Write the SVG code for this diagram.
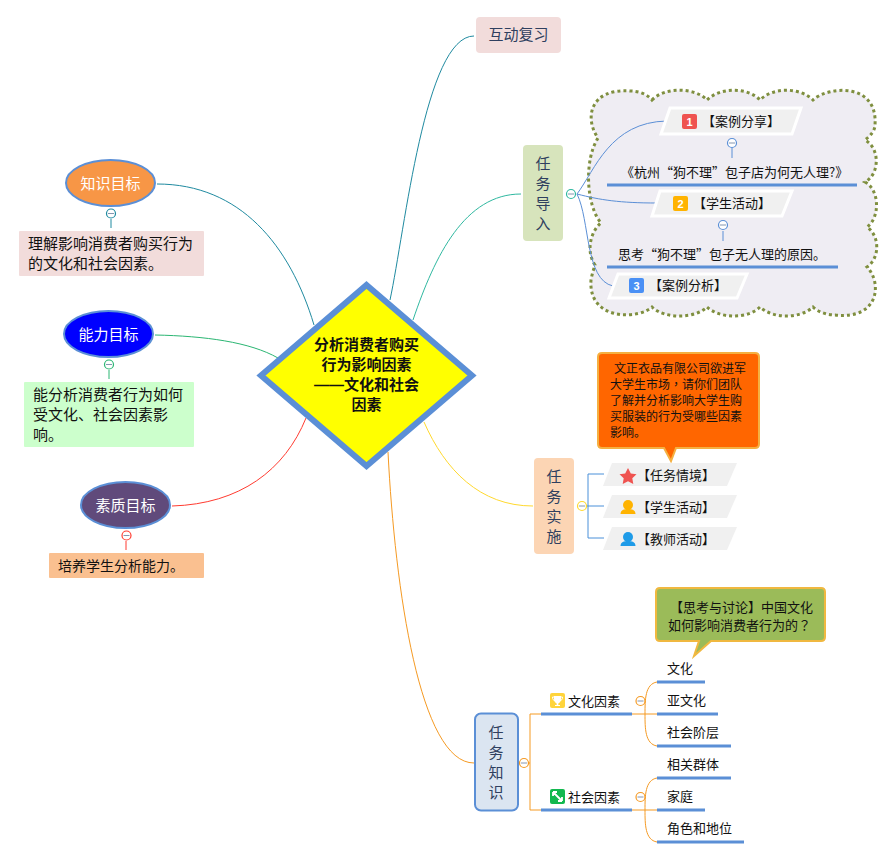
<svg xmlns="http://www.w3.org/2000/svg" width="895" height="859" viewBox="0 0 895 859">
<style>
text{font-family:"Noto Sans CJK SC","Microsoft YaHei","Noto Sans",sans-serif;font-size:13px;fill:#111}
.t15{font-size:15px}.t14{font-size:14px}.t12{font-size:12px}
.head{font-size:15px;fill:#2f3f5f;text-anchor:middle}
.w{fill:#fff;font-size:15px;text-anchor:middle}
.c{fill:none;stroke-width:1}
.u{stroke:#5b8fd6;stroke-width:3;fill:none}
.p{fill:#f0f0f0;stroke:#fff;stroke-width:3}
.q{fill:#f0f0f0}
.col{fill:#fff;stroke-width:1.200}
.minus{stroke:#8496b0;stroke-width:1}
.num{font-size:11px;font-weight:700;fill:#fff;text-anchor:middle;font-family:"Liberation Sans",sans-serif}
.tc{font-family:"Noto Sans CJK TC",sans-serif}
</style>
<g id="cloud"><path d="M652 100C664 87 695 87 707 100C720 87 748 87 760 100C773 87 800 87 813 100C828 86 878 82 875 125C875 131 870 136 865 140C880 148 880 174 865 182C880 190 880 218 867 227C880 236 880 258 867 267C882 282 880 320 835 315C827 315 818 312 813 307C800 319 773 319 760 307C748 319 720 319 707 307C695 319 664 319 652 307C640 319 588 322 591 280C592 274 594 268 595 265C586 252 590 232 601 223C586 205 584 160 598 138C584 118 590 88 630 91C640 91 648 95 652 100Z" fill="#efedf3" stroke="#7f8f3f" stroke-width="3" stroke-dasharray="3 3"/></g>
<g id="connectors" fill="none">
<path class="c" stroke="#1f8aa0" d="M390 300C405 230 425 36 474 36"/>
<path class="c" stroke="#2fb8a0" d="M413 320C435 255 465 194 521 194"/>
<path class="c" stroke="#ffd92e" d="M424 422C445 470 480 506 533 506"/>
<path class="c" stroke="#f59a23" d="M388 452C395 590 420 763 474 763"/>
<path class="c" stroke="#1f8aa0" d="M157 184C240 184 290 245 314 325"/>
<path class="c" stroke="#2bb673" d="M155 335C205 336 250 342 278 358"/>
<path class="c" stroke="#ff3b30" d="M172 506C240 504 285 470 306 418"/>
<path class="c" stroke="#5b8fd6" d="M577 194C595 170 610 122 667 121"/>
<path class="c" stroke="#5b8fd6" d="M577 194C600 200 620 203 657 203"/>
<path class="c" stroke="#5b8fd6" d="M577 194C590 220 585 280 613 286"/>
<path class="c" stroke="#5b8fd6" d="M732 148V158M723 231V241"/>
<path class="c" stroke="#4a90d9" d="M604 474H588V538H604M587 506H604"/>
<path class="c" stroke="#f59a23" d="M529 763H530M541 714H530V810H541M632 714H657M632 810H657"/>
<path class="c" stroke="#f59a23" d="M657 682C645 684 645 700 645 714C645 728 645 744 657 746M657 778C645 780 645 796 645 810C645 824 645 840 657 842"/>
<path class="c" stroke="#1f8aa0" d="M111 219V228"/>
<path class="c" stroke="#2bb673" d="M109 370V379"/>
<path class="c" stroke="#ff3b30" d="M126 541V550"/>
</g>
<g id="center"><polygon points="366.500,285 472,375.500 366.500,466 261,375.500" fill="#ff0" stroke="#5b8fd6" stroke-width="6"/>
<g text-anchor="middle" font-weight="700"><text x="366.500" y="350" class="t15" font-weight="700">分析消费者购买</text><text x="366.500" y="370" class="t15" font-weight="700">行为影响因素</text><text x="366.500" y="390" class="t15" font-weight="700"><tspan font-family="Liberation Sans">——</tspan>文化和社会</text><text x="366.500" y="410" class="t15" font-weight="700">因素</text></g></g>
<g id="review"><rect x="476" y="17" width="85" height="36" rx="4" fill="#f2dcdb"/><text x="518.500" y="40" class="head">互动复习</text></g>
<g id="intro"><rect x="523" y="145" width="40" height="96" rx="4" fill="#d7e4bc"/><text x="543" y="169" class="head">任</text><text x="543" y="189" class="head">务</text><text x="543" y="209" class="head">导</text><text x="543" y="229" class="head">入</text>
<circle class="col" cx="571" cy="194" r="4.500" stroke="#2fb8a0"/><path class="minus" d="M568 194H574"/></g>
<g id="case1"><polygon class="p" points="670,108 801,108 792,134 661,134"/><rect x="682" y="114" width="15" height="15" rx="2" fill="#ef5350"/><text x="689.500" y="126" class="num">1</text><text x="702" y="126">【案例分享】</text></g>
<g id="case1c"><circle class="col" cx="732" cy="143" r="4.500" stroke="#5b8fd6"/><path class="minus" d="M729 143H735"/><text x="621" y="177">《杭州“狗不理”包子店为何无人理?》</text><path class="u" d="M607 185H857"/></g>
<g id="act2"><polygon class="p" points="660,191 792,191 782,216 652,216"/><rect x="673" y="196" width="15" height="15" rx="2" fill="#ffb300"/><text x="680.500" y="208" class="num">2</text><text x="693" y="208">【学生活动】</text></g>
<g id="act2c"><circle class="col" cx="723" cy="225" r="4.500" stroke="#5b8fd6"/><path class="minus" d="M720 225H726"/><text x="618" y="259">思考“狗不理”包子无人理的原因。</text><path class="u" d="M607 267H838"/></g>
<g id="case3"><polygon class="p" points="618,274 747,274 737,298 609,298"/><rect x="629" y="278" width="15" height="15" rx="2" fill="#4a90f5"/><text x="636.500" y="290" class="num">3</text><text x="649" y="290">【案例分析】</text></g>
<g id="callout1"><path d="M602 353H755Q759 353 759 357V444Q759 448 755 448H676L671 461L664 448H602Q598 448 598 444V357Q598 353 602 353Z" fill="#f60" stroke="#f5b041" stroke-width="2"/>
<text class="t12" x="614" y="373">文正衣品有限公司欲进军</text><text class="t12" x="610" y="389">大学生市场<tspan class="tc">，</tspan>请你们团队</text><text class="t12" x="610" y="405">了解并分析影响大学生购</text><text class="t12" x="610" y="421">买服装的行为受哪些因素</text><text class="t12" x="610" y="437">影响。</text></g>
<g id="impl"><rect x="534" y="458" width="40" height="96" rx="4" fill="#fcd5b4"/><text x="554" y="482" class="head">任</text><text x="554" y="502" class="head">务</text><text x="554" y="522" class="head">实</text><text x="554" y="542" class="head">施</text>
<circle class="col" cx="582" cy="506" r="4.500" stroke="#ffd92e"/><path class="minus" d="M579 506H585"/></g>
<g id="s1"><polygon class="q" points="612,463 737,463 727,486 603,486"/><polygon points="628,468 630.800,473.500 636.500,474.300 632.300,478.300 633.300,484 628,481.300 622.700,484 623.700,478.300 619.500,474.300 625.200,473.500" fill="#ef5350"/><text x="637" y="480">【任务情境】</text></g>
<g id="s2"><polygon class="q" points="612,495 737,495 727,518 603,518"/><circle cx="628" cy="505" r="5" fill="#ffb300"/><path d="M620.500 514C620.500 510 624 509 628 509C632 509 635.500 510 635.500 514Z" fill="#ffb300"/><text x="637" y="512">【学生活动】</text></g>
<g id="s3"><polygon class="q" points="612,527 737,527 727,550 603,550"/><circle cx="628" cy="537" r="5" fill="#1e9be8"/><path d="M620.500 546C620.500 542 624 541 628 541C632 541 635.500 542 635.500 546Z" fill="#1e9be8"/><text x="637" y="544">【教师活动】</text></g>
<g id="know"><rect x="475" y="713.500" width="43" height="97" rx="6" fill="#dbe5f1" stroke="#5b8fd6" stroke-width="2"/><text x="496" y="738" class="head">任</text><text x="496" y="758" class="head">务</text><text x="496" y="778" class="head">知</text><text x="496" y="798" class="head">识</text>
<circle class="col" cx="524" cy="763" r="4.500" stroke="#f59a23"/><path class="minus" d="M521 763H527"/></g>
<g id="culture"><rect x="550" y="693" width="15" height="15" rx="2" fill="#ffd43b"/><path d="M554 696H561V699C561 702 559 703 558.300 703.500V705H560V706H555V705H556.700V703.500C556 703 554 702 554 699Z" fill="#fff"/><path d="M554 697H552.500C552.500 699.500 553.500 700.500 555 700.500M561 697H562.500C562.500 699.500 561.500 700.500 560 700.500" fill="none" stroke="#fff"/><text x="568" y="706">文化因素</text><path class="u" d="M541 714H632"/><circle class="col" cx="640.500" cy="701" r="4.500" stroke="#f59a23"/><path class="minus" d="M637.500 701H643.500"/></g>
<g id="social"><rect x="550" y="789" width="15" height="15" rx="2" fill="#12b84f"/><path d="M553 792L562 801M553 792H557M553 792V796M562 801H558M562 801V797" stroke="#fff" stroke-width="1.800" fill="none"/><text x="568" y="802">社会因素</text><path class="u" d="M541 810H632"/><circle class="col" cx="640.500" cy="797" r="4.500" stroke="#f59a23"/><path class="minus" d="M637.500 797H643.500"/></g>
<g id="k1"><text x="667" y="673">文化</text><path class="u" d="M657 682H705"/></g>
<g id="k2"><text x="667" y="705">亚文化</text><path class="u" d="M657 714H718"/></g>
<g id="k3"><text x="667" y="737">社会阶层</text><path class="u" d="M657 746H731"/></g>
<g id="k4"><text x="667" y="769">相关群体</text><path class="u" d="M657 778H731"/></g>
<g id="k5"><text x="667" y="801">家庭</text><path class="u" d="M657 810H705"/></g>
<g id="k6"><text x="667" y="833">角色和地位</text><path class="u" d="M657 842H744"/></g>
<g id="callout2"><path d="M660 588H821Q825 588 825 592V637Q825 641 821 641H711L694 656L699 641H660Q656 641 656 637V592Q656 588 660 588Z" fill="#9bbb59" stroke="#f0b840" stroke-width="2"/><text x="670" y="612">【思考与讨论】中国文化</text><text x="668" y="630">如何影响消费者行为的<tspan class="tc">？</tspan></text></g>
<g id="g1"><ellipse cx="110.500" cy="183" rx="44.500" ry="23" fill="#f79646" stroke="#5b8fd6" stroke-width="2"/><text x="110.500" y="189" class="w">知识目标</text><circle class="col" cx="111" cy="213.500" r="4.500" stroke="#1f8aa0"/><path class="minus" d="M108 213.500H114"/></g>
<g id="g1t"><rect x="19" y="231" width="185" height="45" rx="1" fill="#f2dcdb"/><text class="t15" x="28" y="249">理解影响消费者购买行为</text><text class="t15" x="28" y="269">的文化和社会因素。</text></g>
<g id="g2"><ellipse cx="108.500" cy="334" rx="44.500" ry="23" fill="#00f" stroke="#5b8fd6" stroke-width="2"/><text x="108.500" y="340" class="w">能力目标</text><circle class="col" cx="109" cy="364.500" r="4.500" stroke="#2bb673"/><path class="minus" d="M106 364.500H112"/></g>
<g id="g2t"><rect x="24" y="382" width="170" height="65" rx="1" fill="#cfc"/><text class="t15" x="33" y="400">能分析消费者行为如何</text><text class="t15" x="33" y="420">受文化、社会因素影</text><text class="t15" x="33" y="440">响。</text></g>
<g id="g3"><ellipse cx="125.500" cy="505" rx="44.500" ry="23" fill="#604a7b" stroke="#5b8fd6" stroke-width="2"/><text x="125.500" y="511" class="w">素质目标</text><circle class="col" cx="126.500" cy="535.500" r="4.500" stroke="#ff3b30"/><path class="minus" d="M123.500 535.500H129.500"/></g>
<g id="g3t"><rect x="49" y="553" width="155" height="25" rx="1" fill="#fac090"/><text class="t14" x="58" y="571">培养学生分析能力。</text></g>
</svg>
